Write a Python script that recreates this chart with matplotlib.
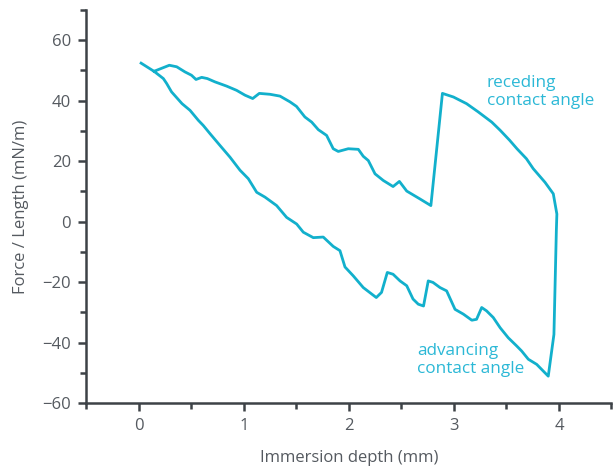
import matplotlib
matplotlib.use("Agg")
import matplotlib.pyplot as plt
from matplotlib.ticker import MultipleLocator

# Advancing curve (immersion, force decreasing)
adv_x = [0.02, 0.143, 0.232, 0.263, 0.31, 0.41, 0.486, 0.565, 0.612, 0.676, 0.771,
         0.867, 0.962, 1.041, 1.121, 1.2, 1.311, 1.406, 1.502, 1.565, 1.66, 1.755,
         1.85, 1.914, 1.962, 2.04, 2.136, 2.26, 2.31, 2.365, 2.42, 2.486, 2.55, 2.61,
         2.66, 2.71, 2.755, 2.80, 2.867, 2.93, 3.01, 3.09, 3.17, 3.215, 3.264, 3.31,
         3.374, 3.44, 3.517, 3.597, 3.645, 3.708, 3.788, 3.85, 3.898]
adv_y = [52.4, 49.7, 47.3, 45.7, 42.9, 39.0, 36.8, 33.5, 31.8, 29.1, 25.2,
         21.3, 17.0, 14.2, 9.7, 8.1, 5.3, 1.4, -0.8, -3.5, -5.3, -5.1,
         -8.2, -9.6, -15.0, -17.9, -21.8, -25.1, -23.4, -16.8, -17.4, -19.6, -21.2, -25.6,
         -27.3, -27.9, -19.6, -20.1, -21.8, -22.9, -29.0, -30.6, -32.6, -32.3, -28.4, -29.5,
         -31.7, -35.1, -38.4, -41.1, -42.8, -45.5, -47.2, -49.4, -51.1]

# Turnaround at maximum depth
turn_x = [3.952, 3.975, 3.98]
turn_y = [-37.3, -3.0, 2.5]

# Receding curve (withdrawal, from max depth back to start)
rec_x = [3.946, 3.867, 3.755, 3.69, 3.60, 3.53, 3.44, 3.36, 3.23, 3.12, 2.995, 2.89,
         2.78, 2.676, 2.55, 2.48, 2.42, 2.327, 2.248, 2.184, 2.136, 2.089, 1.993,
         1.898, 1.85, 1.787, 1.708, 1.645, 1.58, 1.50, 1.438, 1.343, 1.248, 1.146,
         1.083, 1.01, 0.93, 0.835, 0.724, 0.651, 0.597, 0.543, 0.50, 0.438, 0.359,
         0.289, 0.143]
rec_y = [9.2, 13.0, 17.5, 20.8, 24.1, 26.9, 30.2, 32.9, 36.3, 39.0, 41.2, 42.4,
         5.3, 7.5, 10.1, 13.3, 11.6, 13.6, 15.8, 20.2, 21.6, 23.9, 24.1,
         23.2, 24.1, 28.5, 30.4, 32.9, 34.6, 38.1, 39.6, 41.5, 42.1, 42.4,
         40.7, 41.8, 43.4, 44.8, 46.2, 47.3, 47.7, 47.0, 48.4, 49.5, 51.2,
         51.7, 49.7]

xticks = [0, 1, 2, 3, 4]
yticks = [-60, -40, -20, 0, 20, 40, 60]

line_color = "#12b0cc"
text_color = "#2bb8d6"
axis_color = "#3d4247"
label_color = "#555a60"

plt.rcParams['font.family'] = ['Open Sans', 'DejaVu Sans']

fig = plt.figure(figsize=(6.13, 4.72), dpi=100)
ax = fig.add_axes([0.1411, 0.146, 0.8564, 0.833])

xs = adv_x + turn_x + rec_x
ys = adv_y + turn_y + rec_y
ax.plot(xs, ys, color=line_color, lw=2.0, solid_joinstyle='round')

ax.set_xlim(-0.5, 4.5)
ax.set_ylim(-60, 70)
ax.set_xticks(xticks)
ax.set_yticks(yticks)
ax.xaxis.set_minor_locator(MultipleLocator(0.5))
ax.yaxis.set_minor_locator(MultipleLocator(10))

for s in ['top', 'right']:
    ax.spines[s].set_visible(False)
for s in ['left', 'bottom']:
    ax.spines[s].set_color(axis_color)
    ax.spines[s].set_linewidth(1.8)

ax.tick_params(which='major', direction='out', length=6, width=1.8,
               color=axis_color, labelcolor=label_color, labelsize=12, pad=5)
ax.tick_params(which='minor', direction='out', length=4, width=1.8, color=axis_color)

ax.set_xlabel("Immersion depth (mm)", color=label_color, fontsize=12, labelpad=11)
ax.set_ylabel("Force / Length (mN/m)", color=label_color, fontsize=12, labelpad=10)

ax.text(3.31, 42.8, "receding\ncontact angle", color=text_color, fontsize=12.3,
        ha='left', va='center', linespacing=1.2)
ax.text(2.65, -45.8, "advancing\ncontact angle", color=text_color, fontsize=12.3,
        ha='left', va='center', linespacing=1.2)

fig.savefig("out.png", dpi=100)
